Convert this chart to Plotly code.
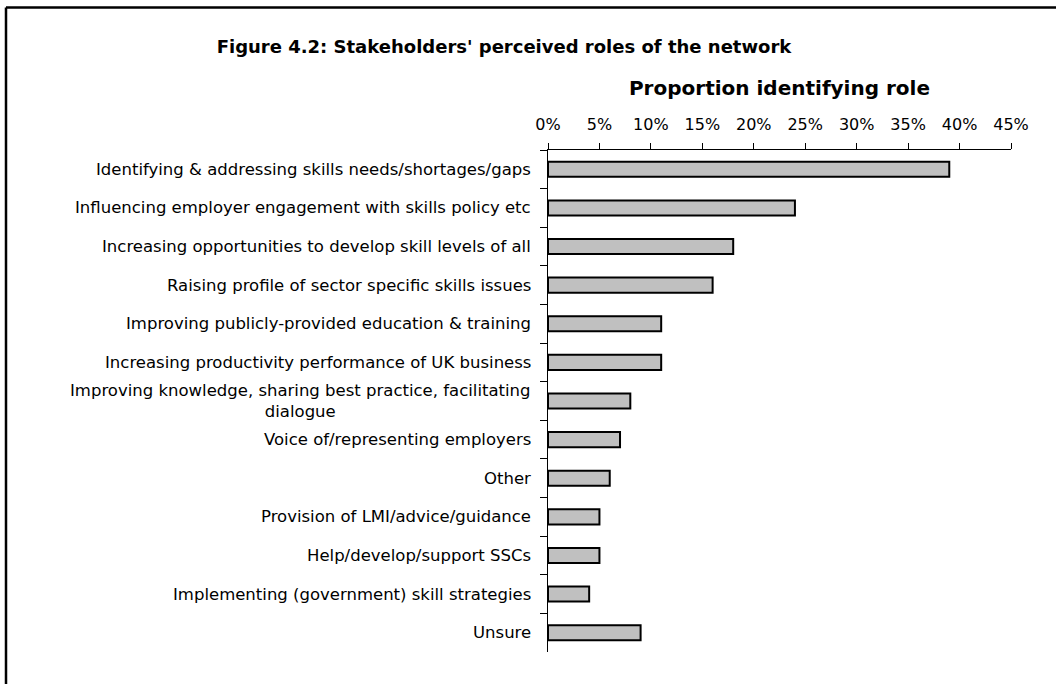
import plotly.graph_objects as go

categories = [
    "Identifying & addressing skills needs/shortages/gaps",
    "Influencing employer engagement with skills policy etc",
    "Increasing opportunities to develop skill levels of all",
    "Raising profile of sector specific skills issues",
    "Improving publicly-provided education & training",
    "Increasing productivity performance of UK business",
    "Improving knowledge, sharing best practice, facilitating<br>dialogue",
    "Voice of/representing employers",
    "Other",
    "Provision of LMI/advice/guidance",
    "Help/develop/support SSCs",
    "Implementing (government) skill strategies",
    "Unsure",
]
values = [39, 24, 18, 16, 11, 11, 8, 7, 6, 5, 5, 4, 9]
x_ticks = [0, 5, 10, 15, 20, 25, 30, 35, 40, 45]

FONT = "DejaVu Sans, Verdana, sans-serif"
W, H = 1056, 684
L, R, T, B = 548, 45, 150, 32
pw, ph = W - L - R, H - T - B

fig = go.Figure(go.Bar(
    x=values, y=categories, orientation="h",
    marker=dict(color="#C0C0C0", line=dict(color="black", width=2)),
    width=0.39,
))

annotations = []
for c in categories:
    annotations.append(dict(
        x=0, xref="paper", y=c, yref="y", text=c, showarrow=False,
        xanchor="right", yanchor="middle", align="center", xshift=-15,
        font=dict(family=FONT, size=16.5, color="black"),
    ))

fig.update_layout(
    width=W, height=H,
    margin=dict(l=L, r=R, t=T, b=B),
    paper_bgcolor="white", plot_bgcolor="white",
    showlegend=False,
    title=dict(
        text="<b>Figure 4.2: Stakeholders' perceived roles of the network</b>",
        xref="container", yref="container",
        x=504 / W, y=1 - 47 / H, xanchor="center", yanchor="middle",
        font=dict(family=FONT, size=18, color="black"),
    ),
    xaxis=dict(
        side="top", range=[0, 45], tickvals=x_ticks,
        ticktext=[f"{v}%" for v in x_ticks],
        ticks="outside", ticklen=6, tickcolor="black", tickwidth=1,
        ticklabelstandoff=7,
        showline=True, linecolor="black", linewidth=1,
        showgrid=False, zeroline=False,
        tickfont=dict(family=FONT, size=16, color="black"),
        title=dict(text="<b>Proportion identifying role</b>", standoff=13,
                   font=dict(family=FONT, size=20, color="black")),
        fixedrange=True,
    ),
    yaxis=dict(
        autorange="reversed", showticklabels=False,
        ticks="outside", ticklen=7, tickcolor="black", tickwidth=1,
        tickson="boundaries",
        showline=True, linecolor="black", linewidth=1,
        showgrid=False, zeroline=False,
    ),
    annotations=annotations,
    shapes=[
        dict(type="line", xref="paper", yref="paper",
             x0=(6 - L) / pw, x1=(W + 10 - L) / pw,
             y0=(H - B - 7.5) / ph, y1=(H - B - 7.5) / ph,
             line=dict(color="black", width=2.5)),
        dict(type="line", xref="paper", yref="paper",
             x0=(6 - L) / pw, x1=(6 - L) / pw,
             y0=(H - B - 7.5) / ph, y1=(H - B - H - 10) / ph,
             line=dict(color="black", width=2.5)),
    ],
)

fig.write_html("out.html")
